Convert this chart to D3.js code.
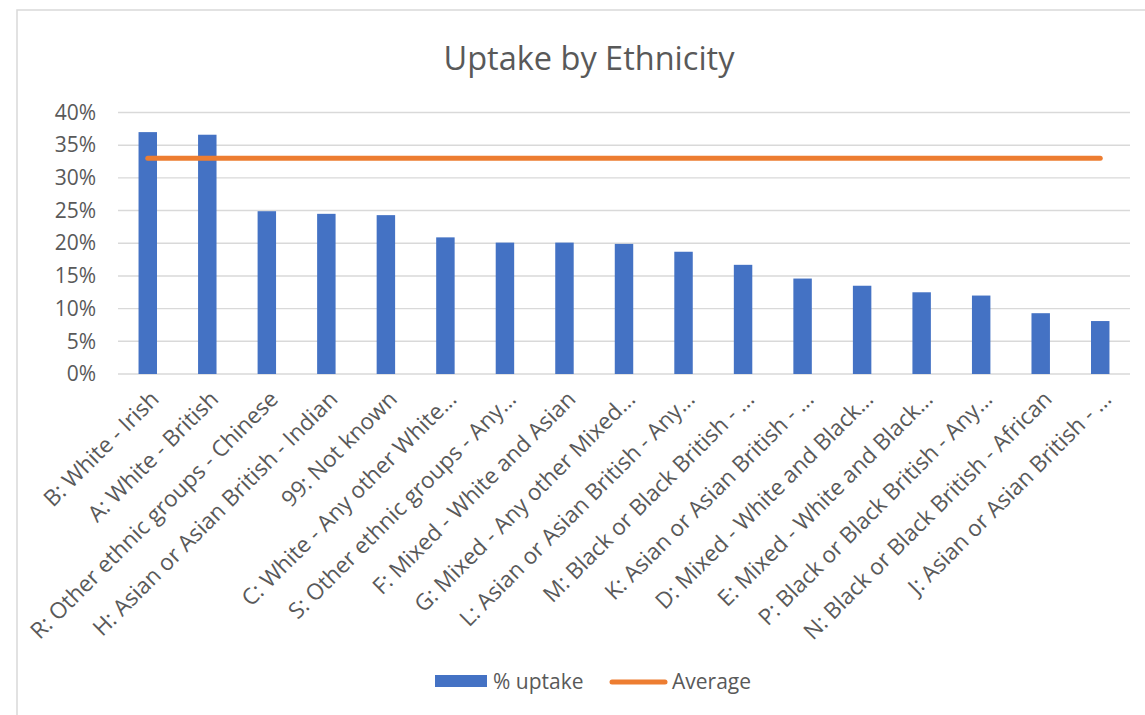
<!DOCTYPE html>
<html lang="en">
<head>
  <meta charset="UTF-8">
  <title>Uptake by Ethnicity</title>
  <style>
    body {
      margin: 0;
      background: #fff;
      font-family: "Open Sans", sans-serif;
    }

    text {
      fill: #595959;
    }

    .grid line {
      stroke: #d9d9d9;
      stroke-width: 1.4;
    }
  </style>
</head>
<body>
  <svg></svg>
  <script src="https://cdn.jsdelivr.net/npm/d3@7"></script>
  <script>
    let categories = [
      'B: White - Irish',
      'A: White - British',
      'R: Other ethnic groups - Chinese',
      'H: Asian or Asian British - Indian',
      '99: Not known',
      'C: White - Any other White...',
      'S: Other ethnic groups - Any...',
      'F: Mixed - White and Asian',
      'G: Mixed - Any other Mixed...',
      'L: Asian or Asian British - Any...',
      'M: Black or Black British - ...',
      'K: Asian or Asian British - ...',
      'D: Mixed - White and Black...',
      'E: Mixed - White and Black...',
      'P: Black or Black British - Any...',
      'N: Black or Black British - African',
      'J: Asian or Asian British - ...'
    ];

    // % uptake per group
    let uptake = [0.370, 0.366, 0.249, 0.245, 0.243, 0.209, 0.201, 0.201, 0.199,
      0.187, 0.167, 0.146, 0.135, 0.125, 0.120, 0.093, 0.081];

    let average = categories.map(() => 0.330);

    let yTicks = [0, 0.05, 0.10, 0.15, 0.20, 0.25, 0.30, 0.35, 0.40];

    let width = 1145,
      height = 715;

    let margin = { top: 112.5, right: 15, bottom: 341, left: 118 };

    let svg = d3.select('svg')
      .attr('width', width)
      .attr('height', height);

    // chart frame
    svg.append('rect')
      .attr('x', 17)
      .attr('y', 10)
      .attr('width', width)
      .attr('height', height)
      .attr('fill', 'none')
      .attr('stroke', '#d9d9d9')
      .attr('stroke-width', 1.5);

    let x = d3.scaleBand()
      .domain(categories)
      .range([margin.left, width - margin.right])
      .paddingInner(0.69)
      .paddingOuter(0.345);

    let y = d3.scaleLinear()
      .domain([0, 0.4])
      .range([height - margin.bottom, margin.top]);

    svg.append('text')
      .text('Uptake by Ethnicity')
      .attr('x', 589)
      .attr('y', 70)
      .attr('text-anchor', 'middle')
      .style('font-size', '32.5px');

    // gridlines
    svg.append('g')
      .attr('class', 'grid')
      .selectAll('line')
      .data(yTicks)
      .enter()
      .append('line')
      .attr('x1', margin.left)
      .attr('x2', width - margin.right)
      .attr('y1', d => y(d))
      .attr('y2', d => y(d));

    let yAxis = svg.append('g')
      .attr('transform', `translate(${margin.left - 22},0)`)
      .call(d3.axisLeft(y).tickValues(yTicks).tickFormat(d3.format('.0%')).tickSize(0).tickPadding(0));

    yAxis.select('.domain').remove();
    yAxis.selectAll('text')
      .style('font-size', '21px')
      .style('font-family', '"Open Sans", sans-serif')
      .attr('fill', '#595959');

    svg.append('g')
      .selectAll('rect')
      .data(uptake)
      .enter()
      .append('rect')
      .attr('x', (d, i) => x(categories[i]))
      .attr('y', d => y(d))
      .attr('width', x.bandwidth())
      .attr('height', d => y(0) - y(d))
      .attr('fill', '#4472c4');

    let avgLine = d3.line()
      .x((d, i) => x(categories[i]) + x.bandwidth() / 2)
      .y(d => y(d));

    svg.append('path')
      .datum(average)
      .attr('d', avgLine)
      .attr('fill', 'none')
      .attr('stroke', '#ed7d31')
      .attr('stroke-width', 5)
      .attr('stroke-linecap', 'round');

    // rotated category labels
    svg.append('g')
      .selectAll('text')
      .data(categories)
      .enter()
      .append('text')
      .text(d => d)
      .attr('text-anchor', 'end')
      .attr('dy', '0.35em')
      .attr('transform', d => `translate(${x(d) + x.bandwidth() / 2 + 7},${y(0) + 21}) rotate(-45)`)
      .style('font-size', '22.5px');

    // legend
    let legend = svg.append('g');

    legend.append('rect')
      .attr('x', 435)
      .attr('y', 675)
      .attr('width', 52)
      .attr('height', 12)
      .attr('fill', '#4472c4');

    legend.append('text')
      .text('% uptake')
      .attr('x', 493)
      .attr('y', 689)
      .style('font-size', '21px');

    legend.append('line')
      .attr('x1', 612)
      .attr('x2', 665)
      .attr('y1', 682)
      .attr('y2', 682)
      .attr('stroke', '#ed7d31')
      .attr('stroke-width', 5)
      .attr('stroke-linecap', 'round');

    legend.append('text')
      .text('Average')
      .attr('x', 672)
      .attr('y', 689)
      .style('font-size', '21px');
  </script>
</body>
</html>
